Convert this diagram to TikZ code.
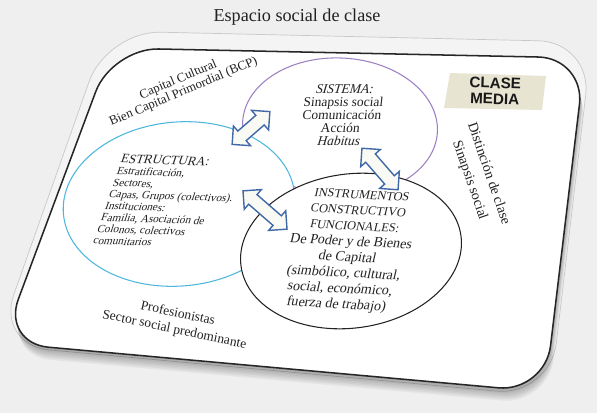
\documentclass[tikz,border=0pt]{standalone}
\usepackage{fontspec}
\setmainfont{Liberation Serif}
\newfontfamily\tagfont{Liberation Sans}
\usetikzlibrary{shapes.geometric,shapes.arrows,positioning}
\definecolor{pagebg}{HTML}{EFEFEF}
\definecolor{rimgray}{HTML}{C8C8C8}
\definecolor{rimfill}{HTML}{F4F4F4}
\definecolor{sistline}{HTML}{9C80C4}
\definecolor{estrline}{HTML}{4DB6DC}
\definecolor{instline}{HTML}{222222}
\definecolor{arrline}{HTML}{4169A8}
\definecolor{arrfill}{HTML}{FAFAF4}
\definecolor{tagfill}{HTML}{E8E4D2}
\definecolor{ink}{HTML}{222222}
\tikzset{
  card/.style ={fill=white,draw=black!85,line width=1.3pt,rounded corners=1.4cm},
  rim/.style  ={fill=rimfill,draw=rimgray,line width=0.6pt,rounded corners=1.6cm},
  oval/.style ={ellipse,fill=white,line width=0.9pt,inner sep=0pt},
  swap/.style ={double arrow,draw=arrline,fill=arrfill,line width=1.2pt,
                inner xsep=0pt,inner ysep=0.17cm,double arrow head extend=0.2cm},
  txt/.style  ={text=ink,align=center,inner sep=1pt},
  tagtxt/.style={text=black!90,align=center,inner sep=0pt,
                font=\tagfont\bfseries\fontsize{13}{13.5}\selectfont}
}
\begin{document}
\begin{tikzpicture}[x=0.03cm,y=-0.03cm]
  \fill[pagebg] (0,0) rectangle (597,413);
  \useasboundingbox (0,0) rectangle (597,413);
  \node[txt,font=\fontsize{15.5}{18}\selectfont] (titulo) at (297,17) {Espacio social de clase};
  % tarjeta
  \filldraw[rim] (107,31) -- (592,42) -- (550,396) -- (-4,345) -- cycle;
  \foreach \d in {1,...,8}
    \fill[black,opacity=0.045,rounded corners=1.4cm]
      ({112+0.3*\d},{48+1.6*\d}) -- ({585+0.4*\d},{58+1.6*\d})
      -- ({545+0.4*\d},{392+1.6*\d}) -- ({2+0.3*\d},{343+1.6*\d}) -- cycle;
  \filldraw[card] (112,48) -- (585,58) -- (545,392) -- (2,343) -- cycle;
  % elipses
  \node[oval,draw=sistline,minimum width=5.85cm,minimum height=4.14cm,rotate=-3] (sistema) at (340,127) {};
  \node[oval,draw=estrline,minimum width=6.96cm,minimum height=4.92cm,rotate=5] (estructura) at (179,204) {};
  \node[oval,draw=instline,minimum width=6.66cm,minimum height=4.62cm,rotate=8] (instrumentos) at (351,251) {};
  % flechas
  \node[swap,minimum height=1.5cm,rotate=41] (flecha-es) at (251,128) {};
  \node[swap,minimum height=1.65cm,rotate=-49] (flecha-si) at (380,169) {};
  \node[swap,minimum height=1.75cm,rotate=-41] (flecha-ei) at (265,210) {};
  % textos
  \node[txt,font=\fontsize{11}{11}\selectfont,rotate=23] (capital) at (181,86)
    {Capital Cultural\\Bien Capital Primordial (BCP)};
  \node[txt,font=\fontsize{11.5}{11}\selectfont,xslant=0.12] (sistxt) at (342,115)
    {\textit{SISTEMA:}\\Sinapsis social\\Comunicación\\Acción\\\textit{Habitus}};
  \node[txt,align=left,anchor=north west,font=\fontsize{9.5}{10}\selectfont,rotate=-2,xslant=0.3] (estrtxt) at (122,153)
    {{\fontsize{11}{10}\selectfont ESTRUCTURA:}\\Estratificación,\\Sectores,\\Capas, Grupos (colectivos).\\Instituciones:\\Familia, Asociación de\\Colonos, colectivos\\comunitarios};
  \node[txt,font=\fontsize{12}{13.5}\selectfont,rotate=-3,xslant=0.18] (insttxt) at (349,251)
    {{\fontsize{10.5}{12}\selectfont INSTRUMENTOS}\\{\fontsize{10.5}{12}\selectfont CONSTRUCTIVO}\\{\fontsize{10.5}{12}\selectfont FUNCIONALES:}\\De Poder y de Bienes\\de Capital\\(simbólico, cultural,\\social, económico,\\fuerza de trabajo)};
  \fill[tagfill] (450,73) -- (546,76) -- (542,110) -- (444,108) -- cycle;
  \node[tagtxt,rotate=-2] (clase) at (495,91) {CLASE\\MEDIA};
  \node[txt,font=\fontsize{12}{17}\selectfont,rotate=-71] (distincion) at (479,177)
    {Distinción de clase\\Sinapsis social};
  \node[txt,font=\fontsize{11.5}{14}\selectfont,rotate=-12] (sector) at (176,322)
    {Profesionistas\\Sector social predominante};
\end{tikzpicture}
\end{document}
